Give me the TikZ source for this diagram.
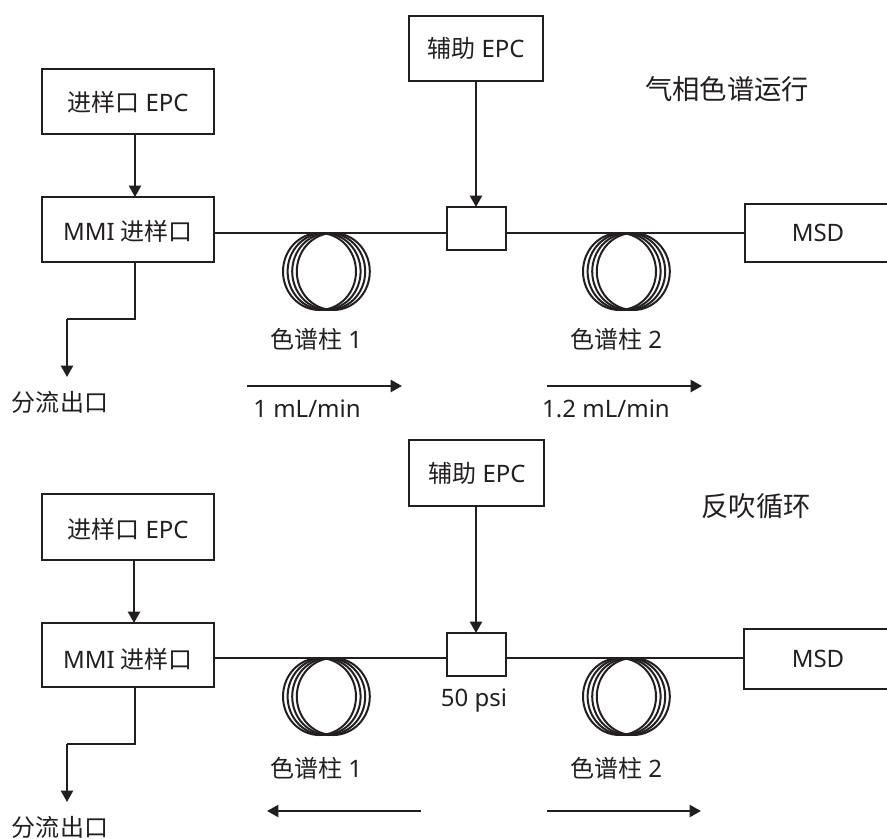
\documentclass[tikz,border=0pt]{standalone}
\usepackage{fontspec}
\usetikzlibrary{arrows.meta}
\setmainfont{Noto Sans}
\newfontfamily\cjk{Noto Sans CJK SC}
\definecolor{ink}{HTML}{231F20}
\tikzset{
  x=0.75pt,y=-0.75pt,
  every node/.style={text=ink,inner sep=0pt,outer sep=0pt},
  boxn/.style={draw=ink,line width=1.75pt,rectangle,anchor=north west,fill=white},
  lbl/.style={font=\fontsize{18}{20}\selectfont,anchor=center},
  big/.style={font=\fontsize{20.5}{24}\selectfont,anchor=center},
  wire/.style={draw=ink,line width=1.7pt},
  arroww/.style={wire,-{Triangle[length=8.5pt,width=9pt]}},
  coilr/.style={draw=ink,line width=1.5pt},
}
\newcommand{\boxat}[5]{\node[boxn,minimum width=#4*0.75pt,minimum height=#5*0.75pt] (#1) at (#2,#3) {};}
\newcommand{\coil}[2]{%
  \foreach \dx in {0,4.6,9.2,13.8}{
    \draw[coilr] (#1+\dx,#2) ellipse [x radius=36.5,y radius=38.5];
  }}
\begin{document}
\begin{tikzpicture}
\useasboundingbox (0,0) rectangle (887,838);
% top
\coil{319.5}{271.5}
\coil{619.5}{271.5}
\boxat{ie}{42}{69}{172}{65}
\boxat{mm}{42}{197}{172}{65}
\boxat{au}{409}{16}{134}{65}
\boxat{sm}{447}{207}{59}{43}
\boxat{ms}{745}{204}{160}{58}
\node[lbl] (tie) at (128,102) {{\cjk 进样口} EPC};
\node[lbl] (tmm) at (128,231) {MMI {\cjk 进样口}};
\node[lbl] (tau) at (476,48) {{\cjk 辅助} EPC};
\node[lbl] (tms) at (818,233) {MSD};
\coordinate (j1) at (135,319);
\coordinate (j2) at (67,319);
\coordinate (j3) at (67,377);
\coordinate (w1) at (214,233);
\coordinate (w2) at (447,233);
\coordinate (w3) at (506,233);
\coordinate (w4) at (745,233);
\draw[arroww] (135,134) -- (135,197);
\draw[arroww] (476,81) -- (476,207);
\draw[wire] (135,262) -- (j1) -- (j2);
\draw[arroww] (j2) -- (j3);
\draw[wire] (w1) -- (w2);
\draw[wire] (w3) -- (w4);
\coordinate (a1) at (247,386);
\coordinate (a2) at (402,386);
\coordinate (a3) at (547,386);
\coordinate (a4) at (702,386);
\draw[arroww] (a1) -- (a2);
\draw[arroww] (a3) -- (a4);
\node[lbl] (ts) at (60,402) {\cjk 分流出口};
\node[lbl] (tc1) at (316,339) {{\cjk 色谱柱} 1};
\node[lbl] (tc2) at (616,339) {{\cjk 色谱柱} 2};
\node[lbl] (tf1) at (307,409) {1 mL/min};
\node[lbl] (tf2) at (606,409) {1.2 mL/min};
\node[big] (tt) at (727,89) {\cjk 气相色谱运行};
% bottom
\coil{319.5}{696.5}
\coil{619.5}{696.5}
\boxat{ieb}{42}{494}{172}{66}
\boxat{mmb}{42}{623}{172}{64}
\boxat{aub}{409}{440}{135}{66}
\boxat{smb}{447}{633}{59}{43}
\boxat{msb}{744}{629}{160}{60}
\node[lbl] (bie) at (128,529) {{\cjk 进样口} EPC};
\node[lbl] (bmm) at (128,659) {MMI {\cjk 进样口}};
\node[lbl] (bau) at (477,473) {{\cjk 辅助} EPC};
\node[lbl] (bms) at (818,659) {MSD};
\coordinate (k1) at (135,744);
\coordinate (k2) at (67,744);
\coordinate (k3) at (67,802);
\coordinate (v1) at (214,658);
\coordinate (v2) at (447,658);
\coordinate (v3) at (506,658);
\coordinate (v4) at (744,658);
\draw[arroww] (134,560) -- (134,623);
\draw[arroww] (476,506) -- (476,633);
\draw[wire] (135,687) -- (k1) -- (k2);
\draw[arroww] (k2) -- (k3);
\draw[wire] (v1) -- (v2);
\draw[wire] (v3) -- (v4);
\coordinate (b1) at (421,811);
\coordinate (b2) at (267,811);
\coordinate (b3) at (547,811);
\coordinate (b4) at (701,811);
\draw[arroww] (b1) -- (b2);
\draw[arroww] (b3) -- (b4);
\node[lbl] (bs) at (60,827) {\cjk 分流出口};
\node[lbl] (bc1) at (316,768) {{\cjk 色谱柱} 1};
\node[lbl] (bc2) at (616,768) {{\cjk 色谱柱} 2};
\node[lbl] (bp) at (474,701) {50 psi};
\node[big] (bt) at (756,506) {\cjk 反吹循环};
\end{tikzpicture}
\end{document}
